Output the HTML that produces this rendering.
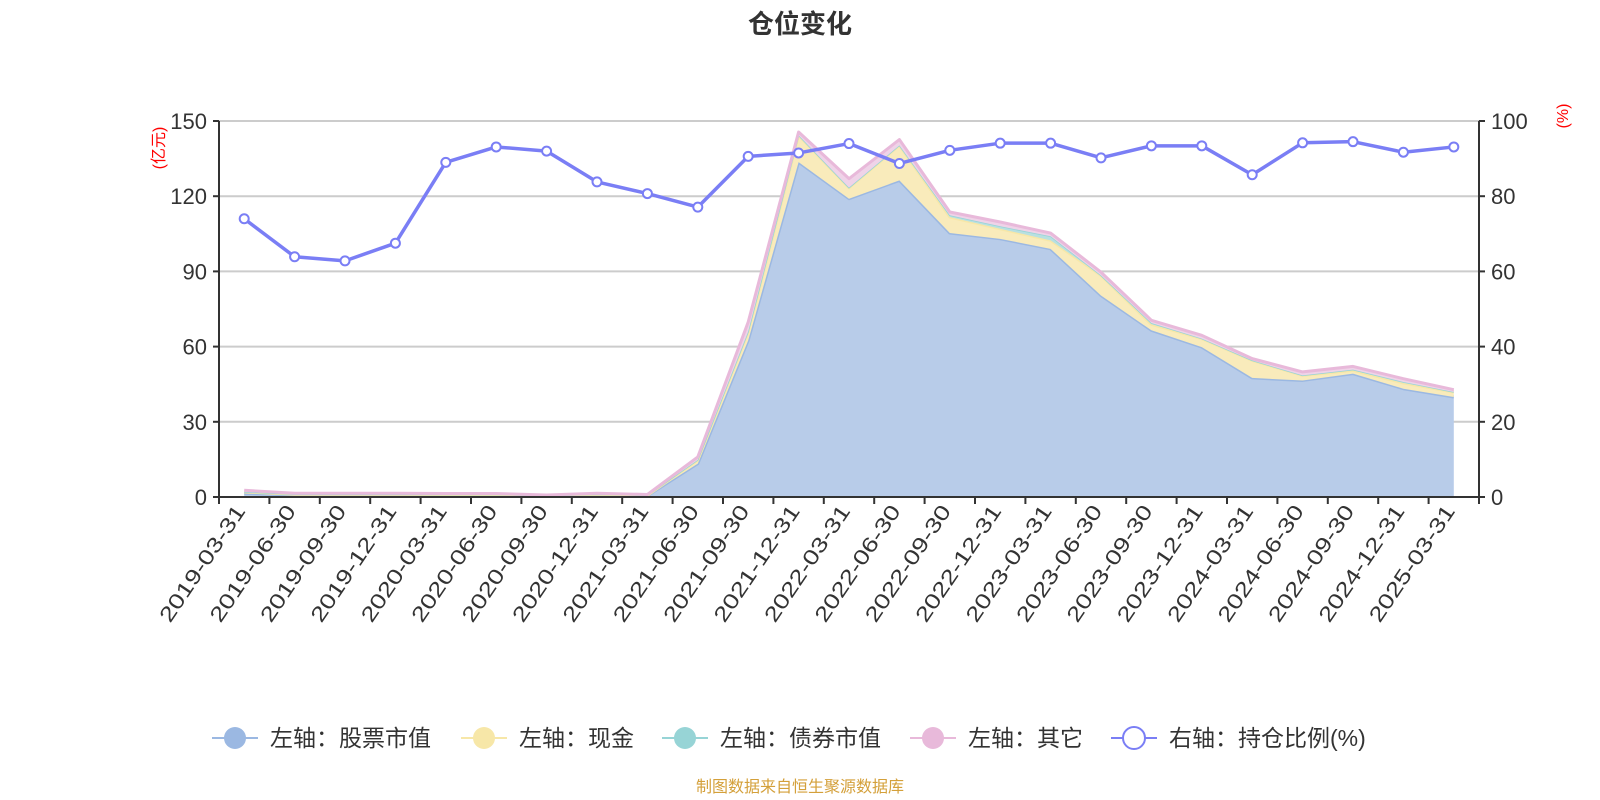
<!DOCTYPE html>
<html><head><meta charset="utf-8"><style>
body{margin:0;background:#fff}
svg{display:block;font-family:"Liberation Sans","Noto Sans CJK SC",sans-serif}
</style></head><body>
<svg id="chart" width="1600" height="800" viewBox="0 0 1600 800">
<text x="800" y="33" text-anchor="middle" font-size="26" font-weight="bold" fill="#333">仓位变化</text>
<text transform="translate(164,148) rotate(-90)" text-anchor="middle" font-size="16" fill="#f00">(亿元)</text>
<text transform="translate(1568,116) rotate(-90)" text-anchor="middle" font-size="16" fill="#f00">(%)</text>
<g id="grid"></g><g id="areas"></g><g id="axes"></g><g id="ratio"></g>
<g>
 <g><line x1="212" y1="738" x2="258" y2="738" stroke="#9bb8e2" stroke-width="2"/><circle cx="235" cy="738" r="11" fill="#9bb8e2"/><text x="270" y="746" font-size="23" fill="#333">左轴：股票市值</text></g>
 <g><line x1="461" y1="738" x2="507" y2="738" stroke="#f7e7a8" stroke-width="2"/><circle cx="484" cy="738" r="11" fill="#f7e7a8"/><text x="519" y="746" font-size="23" fill="#333">左轴：现金</text></g>
 <g><line x1="662" y1="738" x2="708" y2="738" stroke="#97d4d6" stroke-width="2"/><circle cx="685" cy="738" r="11" fill="#97d4d6"/><text x="720" y="746" font-size="23" fill="#333">左轴：债券市值</text></g>
 <g><line x1="910" y1="738" x2="956" y2="738" stroke="#e8b9da" stroke-width="2"/><circle cx="933" cy="738" r="11" fill="#e8b9da"/><text x="968" y="746" font-size="23" fill="#333">左轴：其它</text></g>
 <g><line x1="1111" y1="738" x2="1157" y2="738" stroke="#7a7ef5" stroke-width="2"/><circle cx="1134" cy="738" r="11" fill="#fff" stroke="#7a7ef5" stroke-width="2"/><text x="1169" y="746" font-size="23" fill="#333">右轴：持仓比例(%)</text></g>
</g>
<text x="800" y="792" text-anchor="middle" font-size="16" fill="#d4a03a">制图数据来自恒生聚源数据库</text>
</svg>
<script>
const categories=["2019-03-31","2019-06-30","2019-09-30","2019-12-31","2020-03-31","2020-06-30","2020-09-30","2020-12-31","2021-03-31","2021-06-30","2021-09-30","2021-12-31","2022-03-31","2022-06-30","2022-09-30","2022-12-31","2023-03-31","2023-06-30","2023-09-30","2023-12-31","2024-03-31","2024-06-30","2024-09-30","2024-12-31","2025-03-31"];
const stockValues=[1.5,0.8,0.8,0.8,0.7,0.7,0.3,0.8,0.5,13.3,62.5,133.6,119,126.3,105.3,103,99,80.4,66.5,59.8,47.5,46.5,49.2,43.2,39.9];
const cashValues=[0.5,0.3,0.3,0.3,0.3,0.3,0.2,0.3,0.2,1.5,3.5,10.7,4.4,14,6.4,4,3.4,8,2.4,3.4,7,2,1.3,2.3,2];
const bondValues=[0,0,0,0,0,0,0,0,0,0,0,0,0,0,0.7,1,1.6,0,0.5,0,0,0,0.3,0.4,0];
const otherValues=[0.7,0.4,0.4,0.4,0.4,0.4,0.3,0.4,0.3,1.2,3.8,1.3,3.6,2.3,1.3,1.7,1.3,1.3,1.1,1.3,0.7,1.4,1.3,1.3,0.9];
const ratioValues=[74,63.9,62.8,67.5,89,93.1,92,83.8,80.7,77.1,90.6,91.5,94,88.7,92.2,94.1,94.1,90.2,93.4,93.4,85.7,94.2,94.5,91.7,93.1];
const leftTicks=[0,30,60,90,120,150];
const rightTicks=[0,20,40,60,80,100];

const NS="http://www.w3.org/2000/svg";
const L=219,R=1479,T=121,B=497;
const band=(R-L)/categories.length;
const xPos=i=>L+band*(i+0.5);
const yLeft=v=>B-(v/150)*(B-T);
const yRight=v=>B-(v/100)*(B-T);
function mk(tag,attrs,parent){const e=document.createElementNS(NS,tag);for(const k in attrs)e.setAttribute(k,attrs[k]);parent.appendChild(e);return e;}
const grid=document.getElementById('grid'),axes=document.getElementById('axes'),areas=document.getElementById('areas'),ratio=document.getElementById('ratio');

leftTicks.forEach((t,i)=>{
  const y=yLeft(t);
  if(t>0){const g=mk('line',{x1:L,x2:R,y1:y,y2:y,stroke:'#ccc','stroke-width':2},grid);
  
  }
  mk('line',{x1:L-6,x2:L,y1:y,y2:y,stroke:'#333','stroke-width':2},axes);
  const tx=mk('text',{x:L-12,y:y+8,'text-anchor':'end','font-size':22,fill:'#333'},axes);
  tx.textContent=t;
  
  
});
rightTicks.forEach(t=>{
  const y=yRight(t);
  mk('line',{x1:R,x2:R+6,y1:y,y2:y,stroke:'#333','stroke-width':2},axes);
  const tx=mk('text',{x:R+12,y:y+8,'font-size':22,fill:'#333'},axes);
  tx.textContent=t;
  
  
});
mk('line',{x1:L,x2:L,y1:T,y2:B,stroke:'#333','stroke-width':2},axes);
mk('line',{x1:R,x2:R,y1:T,y2:B,stroke:'#333','stroke-width':2},axes);
mk('line',{x1:L,x2:R,y1:B,y2:B,stroke:'#333','stroke-width':2},axes);
for(let i=0;i<=categories.length;i++){const x=L+band*i;mk('line',{x1:x,x2:x,y1:B,y2:B+7,stroke:'#333','stroke-width':2},axes);}
categories.forEach((c,i)=>{
  const x=xPos(i)+2;
  const tx=mk('text',{x:0,y:0,'text-anchor':'end','font-size':21,fill:'#333',transform:`translate(${x},${B+14}) rotate(-56)`,textLength:136,lengthAdjust:'spacingAndGlyphs'},axes);
  tx.textContent=c;
  
  
});

const series=[[stockValues,'#b8cce9','#9bb8e2','stock',3],[cashValues,'#f9ebbb','#f7e7a8','cash',3],[bondValues,'#b8e0e1','#97d4d6','bond',1.5],[otherValues,'#efd3e8','#e8b9da','other',3]];
let base=categories.map(()=>0);
series.forEach(([vals,fill,stroke,name,sw])=>{
  const top=vals.map((v,i)=>base[i]+v);
  const up=top.map((v,i)=>xPos(i)+','+yLeft(v));
  const down=base.map((v,i)=>xPos(i)+','+yLeft(v)).reverse();
  const p=mk('polygon',{points:up.concat(down).join(' '),fill:fill},areas);
  
  
  const l=mk('polyline',{points:up.join(' '),fill:'none',stroke:stroke,'stroke-width':sw,'stroke-linejoin':'round'},areas);
  
  
  base=top;
});

const rl=mk('polyline',{points:ratioValues.map((v,i)=>xPos(i)+','+yRight(v)).join(' '),fill:'none',stroke:'#7a7ef5','stroke-width':3.5,'stroke-linejoin':'round'},ratio);


ratioValues.forEach((v,i)=>{
  const c=mk('circle',{cx:xPos(i),cy:yRight(v),r:4.5,fill:'#fff',stroke:'#7a7ef5','stroke-width':2},ratio);
  
  
});
</script>
</body></html>
